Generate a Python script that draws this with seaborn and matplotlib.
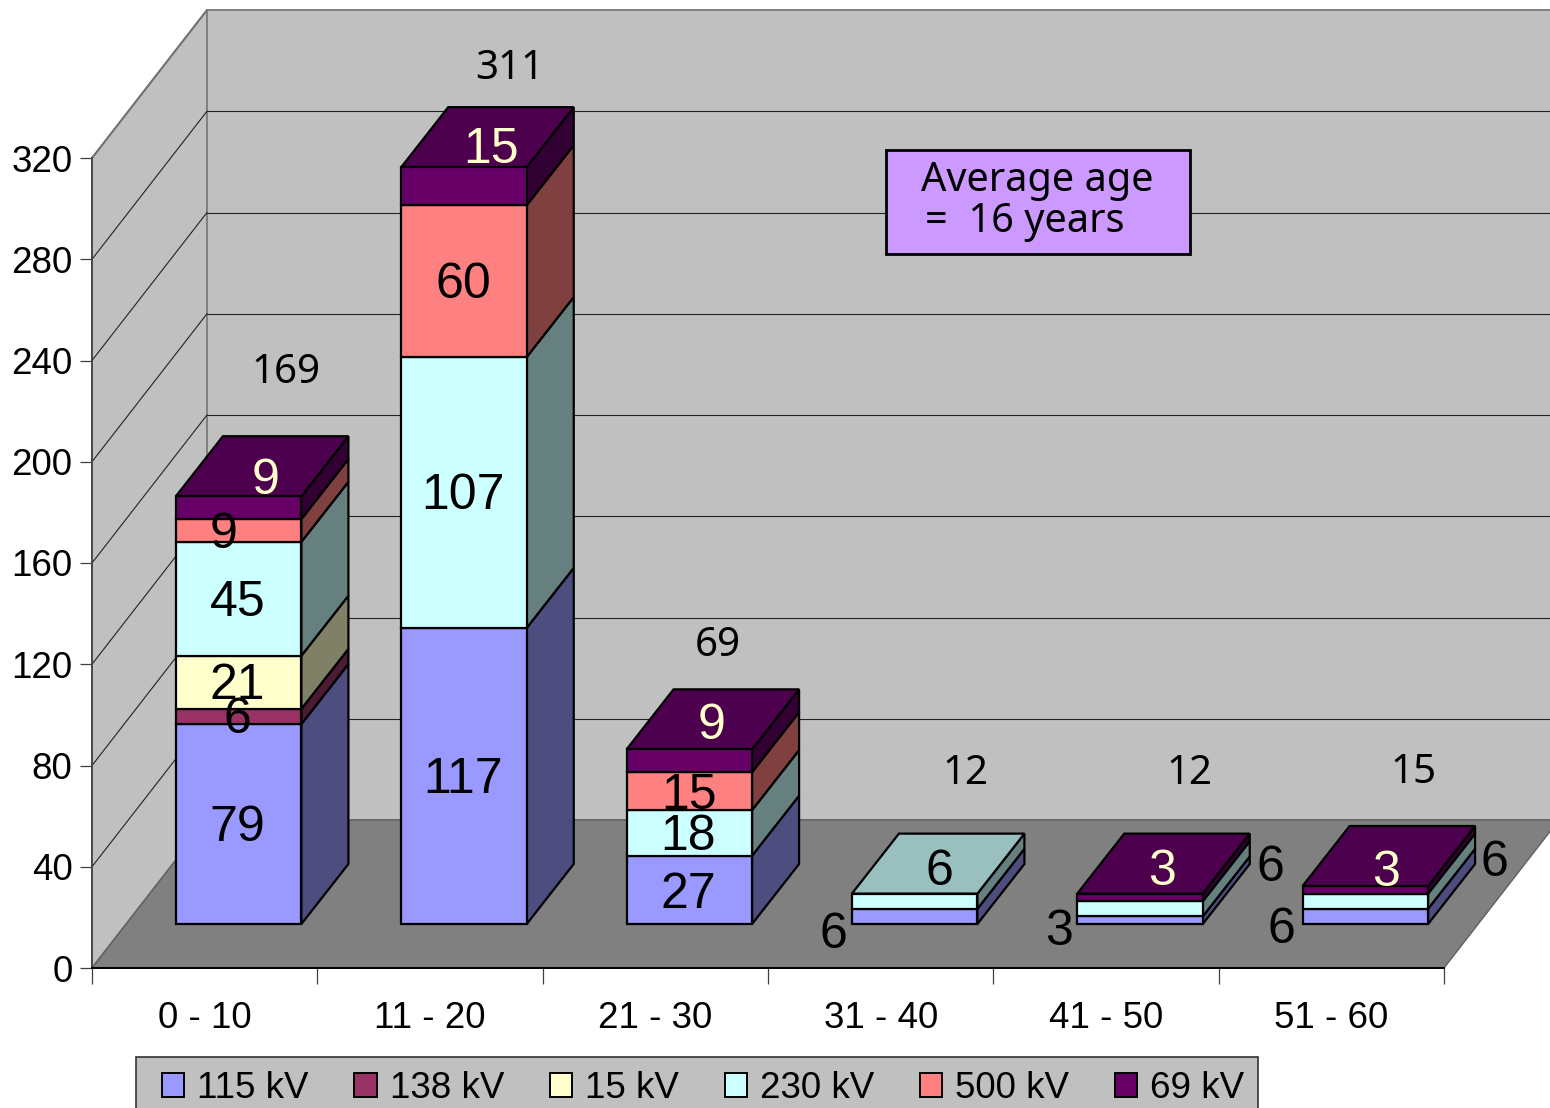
import numpy as np
import pandas as pd
import matplotlib.pyplot as plt
from matplotlib.patches import Patch, Polygon, Rectangle
from matplotlib.colors import to_rgb
import seaborn as sns

# Values
age_groups = ['0 - 10', '11 - 20', '21 - 30', '31 - 40', '41 - 50', '51 - 60']
voltages = ['115 kV', '138 kV', '15 kV', '230 kV', '500 kV', '69 kV']
kv115 = [79, 117, 27, 6, 3, 6]
kv138 = [6, 0, 0, 0, 0, 0]
kv15 = [21, 0, 0, 0, 0, 0]
kv230 = [45, 107, 18, 6, 6, 6]
kv500 = [9, 60, 15, 0, 0, 0]
kv69 = [9, 15, 9, 0, 3, 3]
totals = [169, 311, 69, 12, 12, 15]
y_ticks = [0, 40, 80, 120, 160, 200, 240, 280, 320]

colors = ['#9999ff', '#993366', '#ffffcc', '#ccffff', '#ff8080', '#660066']

# Excel scattered the labels around, nudges are in pixels (right, up)
label_nudges = {
    (0, 4): (-15, 0), (0, 5): (27, 32),
    (1, 5): (27, 41),
    (2, 5): (22, 40), (2, 4): (0, 0), (2, 0): (-1, 0),
    (3, 0): (-81, -14), (3, 3): (25, 34),
    (4, 0): (-81, -7), (4, 3): (130, 46), (4, 5): (22, 30),
    (5, 0): (-84, -9), (5, 3): (129, 43), (5, 5): (21, 22),
}
total_nudges = [(47, 128), (46, 103), (28, 108), (51, 125), (49, 125), (48, 118)]

W, H = 1550, 1108
sns.set_theme(style='white')
plt.rcParams['font.family'] = ['Liberation Sans', 'DejaVu Sans']
plt.rcParams['text.color'] = 'black'
plt.rcParams['xtick.labelcolor'] = 'black'
plt.rcParams['ytick.labelcolor'] = 'black'
fig = plt.figure(figsize=(W / 100, H / 100), dpi=100, facecolor='white')

plot_w, plot_h = 1352, 810
ax = fig.add_axes([92 / W, (H - 968) / H, plot_w / W, plot_h / H])
bar_ax = fig.add_axes([126 / W, (H - 924) / H, plot_w / W, plot_h / H])
bar_ax.patch.set_alpha(0)

x_per_px = 6 / plot_w
y_per_px = 320 / plot_h
x0, x1 = -0.5, 5.5
wall_dx, wall_dy = 115 * x_per_px, 148 * y_per_px

# walls and floor
ax.set_xlim(x0, x1)
ax.set_ylim(0, 320)
ax.add_patch(Polygon([(x0, 0), (x0, 320), (x0 + wall_dx, 320 + wall_dy), (x0 + wall_dx, wall_dy)],
                     closed=True, fc='#c0c0c0', ec='#808080', lw=1.4, clip_on=False, zorder=1))
ax.add_patch(Polygon([(x0 + wall_dx, wall_dy), (x0 + wall_dx, 320 + wall_dy),
                      (x1 + wall_dx, 320 + wall_dy), (x1 + wall_dx, wall_dy)],
                     closed=True, fc='#c0c0c0', ec='#808080', lw=1.4, clip_on=False, zorder=1))
ax.add_patch(Polygon([(x0, 0), (x1, 0), (x1 + wall_dx, wall_dy), (x0 + wall_dx, wall_dy)],
                     closed=True, fc='#808080', ec='#606060', lw=1, clip_on=False, zorder=2))
for v in y_ticks[1:-1]:
    ax.plot([x0, x0 + wall_dx], [v, v + wall_dy], color='#222222', lw=0.8, clip_on=False, zorder=1.5)
    ax.plot([x0 + wall_dx, x1 + wall_dx], [v + wall_dy] * 2, color='#222222', lw=0.8, clip_on=False, zorder=1.5)
ax.plot([x0, x0 + wall_dx], [320, 320 + wall_dy], color='#707070', lw=1.2, clip_on=False, zorder=1.5)

# axis furniture
ax.patch.set_alpha(0)
for side in ['top', 'right']:
    ax.spines[side].set_visible(False)
ax.spines['left'].set_color('#404040')
ax.spines['left'].set_linewidth(1.2)
ax.spines['left'].set_zorder(3)
ax.spines['bottom'].set_color('black')
ax.spines['bottom'].set_linewidth(1.4)
ax.spines['bottom'].set_zorder(3)
ax.set_yticks(y_ticks)
ax.set_yticklabels([str(v) for v in y_ticks], va='center_baseline')
ax.set_xticks(range(len(age_groups)))
ax.set_xticklabels(age_groups)
ax.set_xticks(np.arange(x0, x1 + 1), minor=True)
ax.tick_params(axis='y', left=True, length=9, width=0.9, color='#404040', labelsize=26.5, pad=5)
ax.tick_params(axis='x', which='major', bottom=False, length=0, labelsize=26.5, pad=24)
ax.tick_params(axis='x', which='minor', bottom=True, length=11.5, width=0.9, color='#404040')
ax.set_xlabel('')
ax.set_ylabel('')

# stacked front faces, with the depth faces added from the bar geometry
series = [kv115, kv138, kv15, kv230, kv500, kv69]
bar_dx, bar_dy = 47 * x_per_px, 60 * y_per_px
bar_w = 125.5 / (plot_w / 6)
bottoms = np.zeros(len(age_groups))
tops = np.zeros(len(age_groups))
top_color = [None] * len(age_groups)


def shade(color, f):
    return tuple(c * f for c in to_rgb(color))


for s, (name, vals, col) in enumerate(zip(voltages, series, colors)):
    df = pd.DataFrame({'age': age_groups, 'count': vals, 'bottom': bottoms})
    df = df[df['count'] > 0]
    sns.barplot(data=df, x='age', y='count', order=age_groups, bottom=df['bottom'].values,
                color=col, saturation=1, width=bar_w, edgecolor='black', linewidth=1.6,
                ax=bar_ax, zorder=4, clip_on=False)
    for _, row in df.iterrows():
        i = age_groups.index(row['age'])
        right = i + bar_w / 2
        b, t = row['bottom'], row['bottom'] + row['count']
        bar_ax.add_patch(Polygon([(right, b), (right, t), (right + bar_dx, t + bar_dy), (right + bar_dx, b + bar_dy)],
                                 closed=True, fc=shade(col, 0.5), ec='black', lw=1.6, clip_on=False, zorder=3))
        tops[i] = t
        top_color[i] = col
        nudge = label_nudges.get((i, s), (-1, 1))
        bar_ax.annotate(str(row['count']), (i, (b + t) / 2), xytext=nudge, textcoords='offset pixels',
                        ha='center', va='center_baseline', fontsize=36, zorder=10, annotation_clip=False,
                        color='#ffffcc' if name == '69 kV' else 'black')
    bottoms = bottoms + np.array(vals)

for i, t in enumerate(tops):
    left, right = i - bar_w / 2, i + bar_w / 2
    bar_ax.add_patch(Polygon([(left, t), (right, t), (right + bar_dx, t + bar_dy), (left + bar_dx, t + bar_dy)],
                             closed=True, fc=shade(top_color[i], 0.75), ec='black', lw=1.6, clip_on=False, zorder=3))
    bar_ax.annotate(str(totals[i]), (i, t), xytext=total_nudges[i], textcoords='offset pixels',
                    ha='center', va='center_baseline', fontsize=29, family='Noto Sans', zorder=10,
                    annotation_clip=False)

bar_ax.set_xlim(x0, x1)
bar_ax.set_ylim(0, 320)
bar_ax.axis('off')

# note box
fig.add_artist(Rectangle((886 / W, 1 - 254 / H), 304 / W, 104 / H, transform=fig.transFigure,
                         fc='#cc99ff', ec='black', lw=2, zorder=6))
fig.text(921 / W, 1 - 181 / H, 'Average age', fontsize=28.6, family='Noto Sans', ha='left', va='center', zorder=7)
fig.text(925 / W, 1 - 222 / H, '=  16 years', fontsize=28.6, family='Noto Sans', ha='left', va='center', zorder=7)

# legend
fig.add_artist(Rectangle((136 / W, 1 - 1120 / H), 1122 / W, 63 / H, transform=fig.transFigure,
                         fc='#c0c0c0', ec='#333333', lw=1.2, zorder=6))
handles = [Patch(fc=c, ec='black', lw=1.4, label=v) for c, v in zip(colors, voltages)]
leg = fig.legend(handles=handles, loc='upper left', bbox_to_anchor=(162 / W, 1 - 1071 / H), ncol=6,
                 frameon=False, fontsize=26.5, borderaxespad=0, borderpad=0, handlelength=0.6,
                 handleheight=0.6, handletextpad=0.36, columnspacing=1.24)
leg.set_zorder(8)

fig.savefig('out.png', dpi=100, facecolor='white')
